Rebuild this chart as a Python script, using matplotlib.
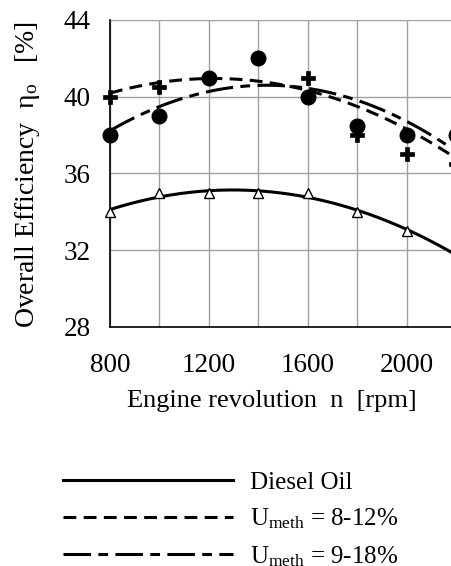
import numpy as np
import matplotlib.pyplot as plt

plt.rcParams['font.family'] = ['Liberation Serif', 'DejaVu Serif']
plt.rcParams['mathtext.fontset'] = 'custom'
plt.rcParams['mathtext.rm'] = 'Liberation Serif'
plt.rcParams['mathtext.it'] = 'Liberation Serif:italic'

# measured points
rpm = np.array([800, 1000, 1200, 1400, 1600, 1800, 2000, 2200])
eta_diesel = np.array([34.0, 35.0, 35.0, 35.0, 35.0, 34.0, 33.0, 32.0])
eta_8_12 = np.array([40.0, 40.5, 41.0, 42.0, 41.0, 38.0, 37.0, 36.5])
eta_9_18 = np.array([38.0, 39.0, 41.0, 42.0, 40.0, 38.5, 38.0, 38.0])

# trend lines
trend_rpm = np.array([800, 1000, 1200, 1400, 1600, 1800, 2000, 2180])
trend_diesel = np.array([34.1, 34.8, 35.1, 35.1, 34.8, 34.0, 33.1, 31.9])
trend_8_12 = np.array([40.2, 40.7, 40.95, 40.85, 40.4, 39.4, 38.25, 37.0])
trend_9_18 = np.array([38.2, 39.5, 40.3, 40.6, 40.5, 39.75, 38.6, 37.4])

labels = ['Diesel Oil', r'U$_{\rm meth}$ = 8-12%', r'U$_{\rm meth}$ = 9-18%']

fig = plt.figure(figsize=(4.51, 5.66), dpi=100)
ax = fig.add_axes([0.2439, 0.4223, 0.878, 0.5424])

xs = np.linspace(800, 2400, 200)
styles = ['-', (0, (4.2, 2.4)), (0, (9.0, 2.4, 3.2, 2.4))]
lines = []
for tr, ls in zip([trend_diesel, trend_8_12, trend_9_18], styles):
    c = np.polyfit(trend_rpm, tr, 2)
    l, = ax.plot(xs, np.polyval(c, xs), color='black', lw=2.2, ls=ls, zorder=3)
    lines.append(l)

ax.plot(rpm, eta_diesel, ls='none', marker='^', ms=7, mfc='white',
        mec='black', mew=1.0, zorder=4, clip_on=False)
ax.plot(rpm, eta_8_12, ls='none', marker='P', ms=10, mfc='black',
        mec='black', mew=0.5, zorder=4, clip_on=False)
ax.plot(rpm, eta_9_18, ls='none', marker='o', ms=10.5, mfc='black',
        mec='black', zorder=5, clip_on=False)

ax.set_xlim(800, 2400)
ax.set_ylim(28, 44)
ax.set_xticks([800, 1200, 1600, 2000])
ax.set_xticks(np.arange(800, 2401, 200), minor=True)
ax.set_yticks([28, 32, 36, 40, 44])
ax.grid(True, which='both', color='#a0a0a0', lw=1.0)
ax.tick_params(which='both', length=0, labelsize=19.5)
ax.tick_params(axis='x', pad=19)
ax.tick_params(axis='y', pad=14)
for s in ['top', 'right']:
    ax.spines[s].set_visible(False)
for s in ['left', 'bottom']:
    ax.spines[s].set_linewidth(1.2)
ax.set_axisbelow(True)

ax.set_xlabel('Engine revolution  n  [rpm]', fontsize=19)
ax.xaxis.set_label_coords(0.41, -0.205)
ax.set_ylabel('Overall Efficiency  η$_{\\rm o}$   [%]', fontsize=20)
ax.yaxis.set_label_coords(-0.171, 0.495)

fig.legend(lines, labels, loc='upper left', bbox_to_anchor=(0.14, 0.167),
           frameon=False, fontsize=18, handlelength=6.8, handletextpad=0.68,
           labelspacing=0.51, borderpad=0, borderaxespad=0)

fig.savefig('out.png', dpi=100)
